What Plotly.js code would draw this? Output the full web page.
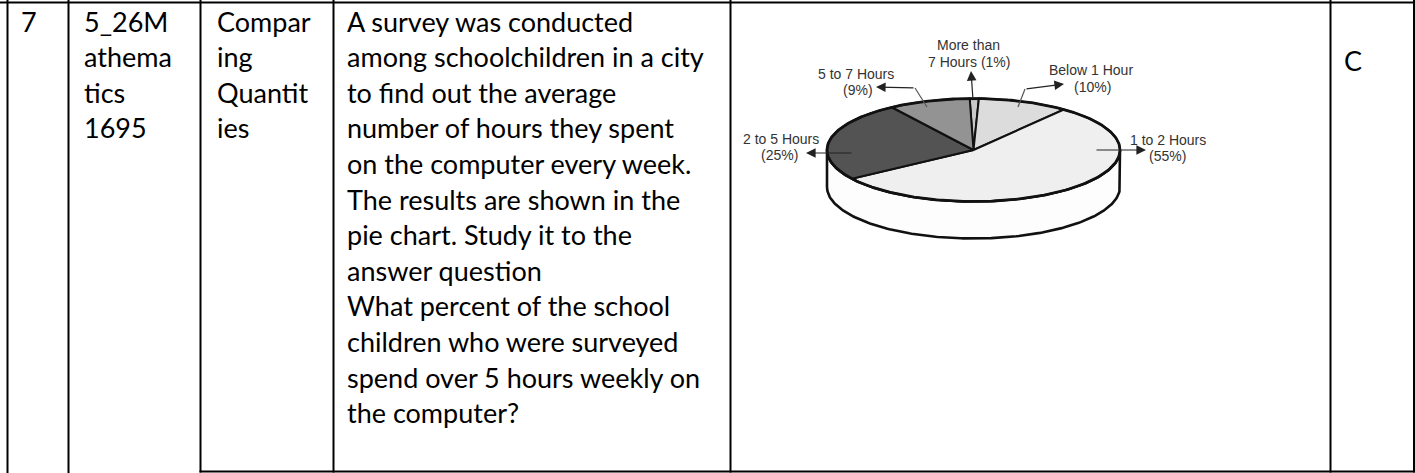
<!DOCTYPE html>
<html><head><meta charset="utf-8">
<script src="https://cdn.plot.ly/plotly-3.0.1.min.js"></script>
<style>html,body{margin:0;padding:0;background:#fff;}#chart{width:1415px;height:473px;}</style>
</head><body><div id="chart"></div>
<script>
// ---------- DATA ----------
const categories = ["More than 7 Hours", "Below 1 Hour", "1 to 2 Hours", "2 to 5 Hours", "5 to 7 Hours"];
const percents = [1, 10, 55, 25, 9];
const labelFirstLine = ["More than", "Below 1 Hour", "1 to 2 Hours", "2 to 5 Hours", "5 to 7 Hours"];
const labelSecondPrefix = ["7 Hours ", "", "", "", ""];

const colNumber = ["7"];
const colCode = ["5_26M", "athema", "tics", "1695"];
const colTopic = ["Compar", "ing", "Quantit", "ies"];
const colQuestion = [
  "A survey was conducted",
  "among schoolchildren in a city",
  "to find out the average",
  "number of hours they spent",
  "on the computer every week.",
  "The results are shown in the",
  "pie chart. Study it to the",
  "answer question",
  "What percent of the school",
  "children who were surveyed",
  "spend over 5 hours weekly on",
  "the computer?"
];
const colAnswer = ["C"];

// ---------- STYLE / GEOMETRY ----------
const W = 1415, H = 473;
const sliceColors = ["#c9c9c9", "#dcdcdc", "#efefef", "#535353", "#939393"];
const pie = {cx: 973.5, cy: 150, rx: 146.5, ry: 51.5, depth: 37, start: 91.5};
const tableFont = {family: "Lato, 'Open Sans', sans-serif", size: 27, color: "#000"};
const labelFont = {family: "'Liberation Sans', Arial, sans-serif", size: 14, color: "#333"};
const firstBaseline = 31.5, lineStep = 35.6, baselineToMid = 10.4;
const colX = {num: 18.5, code: 82, topic: 215, question: 345, answer: 1342};
const vLines = [7.5, 68.5, 200.5, 333.5, 730.5, 1330.5, 1414];
// label layout: [line1 center x,y], [line2 center x,y], leader points (last = arrow tip)
const labelLayout = [
  {l1: [968.5, 45], l2: [969, 61.5], path: [[973, 100], [971, 71]]},
  {l1: [1091, 70], l2: [1092, 87], path: [[1018, 107], [1025, 89], [1064, 84]]},
  {l1: [1168, 140], l2: [1167, 156], path: [[1095, 150], [1146, 150]]},
  {l1: [781, 139], l2: [779, 155], path: [[853, 153], [806, 153]]},
  {l1: [856, 74], l2: [858, 90], path: [[927, 107], [915, 88], [876, 87]]}
];

// ---------- BUILD ----------
function pt(deg, dy) {
  const r = deg * Math.PI / 180;
  return [pie.cx + pie.rx * Math.cos(r), pie.cy - pie.ry * Math.sin(r) + (dy || 0)];
}
const traces = [];
// side wall (front half)
{
  const xs = [], ys = [];
  for (let a = 180; a <= 360; a += 1) { const p = pt(a); xs.push(p[0]); ys.push(p[1]); }
  for (let a = 360; a >= 180; a -= 1) { const p = pt(a, pie.depth); xs.push(p[0]); ys.push(p[1]); }
  xs.push(xs[0]); ys.push(ys[0]);
  traces.push({type: "scatter", mode: "lines", x: xs, y: ys, fill: "toself", fillcolor: "#fdfdfd",
    line: {color: "#111", width: 2.6}, hoverinfo: "skip"});
}
// slices
const total = percents.reduce((s, v) => s + v, 0);
let ang = pie.start;
percents.forEach((v, i) => {
  const sweep = v / total * 360;
  const a0 = ang, a1 = ang - sweep;
  const xs = [pie.cx], ys = [pie.cy];
  const n = Math.max(2, Math.ceil(sweep));
  for (let k = 0; k <= n; k++) { const p = pt(a0 - sweep * k / n); xs.push(p[0]); ys.push(p[1]); }
  xs.push(pie.cx); ys.push(pie.cy);
  traces.push({type: "scatter", mode: "lines", x: xs, y: ys, fill: "toself", fillcolor: sliceColors[i],
    line: {color: "#111", width: 2}, name: categories[i], hoverinfo: "name"});
  ang = a1;
});
// rim outline
{
  const xs = [], ys = [];
  for (let a = 0; a <= 360; a += 1) { const p = pt(a); xs.push(p[0]); ys.push(p[1]); }
  traces.push({type: "scatter", mode: "lines", x: xs, y: ys, line: {color: "#111", width: 2.8}, hoverinfo: "skip"});
}

const shapes = [];
// table lines
shapes.push({type: "line", x0: 0, x1: W, y0: 2.5, y1: 2.5, line: {color: "#000", width: 2}});
shapes.push({type: "line", x0: 199.5, x1: W, y0: 471.5, y1: 471.5, line: {color: "#000", width: 2}});
vLines.forEach((x, i) => {
  shapes.push({type: "line", x0: x, x1: x, y0: 0, y1: i < 2 ? H : 472.5, line: {color: "#000", width: 2}});
});

const annotations = [];
function tableText(lines, x, firstB) {
  lines.forEach((t, i) => {
    annotations.push({x: x, y: firstB + i * lineStep - baselineToMid, text: t, showarrow: false,
      xanchor: "left", yanchor: "middle", font: tableFont});
  });
}
tableText(colNumber, colX.num, firstBaseline);
tableText(colCode, colX.code, firstBaseline);
tableText(colTopic, colX.topic, firstBaseline);
tableText(colQuestion, colX.question, firstBaseline);
tableText(colAnswer, colX.answer, 71);

// pie labels and leaders
labelLayout.forEach((L, i) => {
  annotations.push({x: L.l1[0], y: L.l1[1], text: labelFirstLine[i], showarrow: false,
    xanchor: "center", yanchor: "middle", font: labelFont});
  annotations.push({x: L.l2[0], y: L.l2[1], text: labelSecondPrefix[i] + "(" + percents[i] + "%)", showarrow: false,
    xanchor: "center", yanchor: "middle", font: labelFont});
  const P = L.path;
  if (P.length > 2) {
    let d = "M" + P[0][0] + "," + P[0][1];
    for (let k = 1; k < P.length - 1; k++) d += " L" + P[k][0] + "," + P[k][1];
    shapes.push({type: "path", path: d, line: {color: "#555", width: 1.2}});
  }
  const tail = P[P.length - 2], tip = P[P.length - 1];
  annotations.push({x: tip[0], y: tip[1], ax: tail[0], ay: tail[1], axref: "x", ayref: "y",
    text: "", showarrow: true, arrowhead: 2, arrowsize: 1.6, arrowwidth: 1.2, arrowcolor: "#222"});
});

const layout = {
  width: W, height: H, margin: {l: 0, r: 0, t: 0, b: 0},
  paper_bgcolor: "#fff", plot_bgcolor: "#fff", showlegend: false,
  xaxis: {range: [0, W], visible: false, fixedrange: true},
  yaxis: {range: [H, 0], visible: false, fixedrange: true},
  shapes: shapes, annotations: annotations
};
Plotly.newPlot("chart", traces, layout, {displayModeBar: false, staticPlot: true});
</script></body></html>
